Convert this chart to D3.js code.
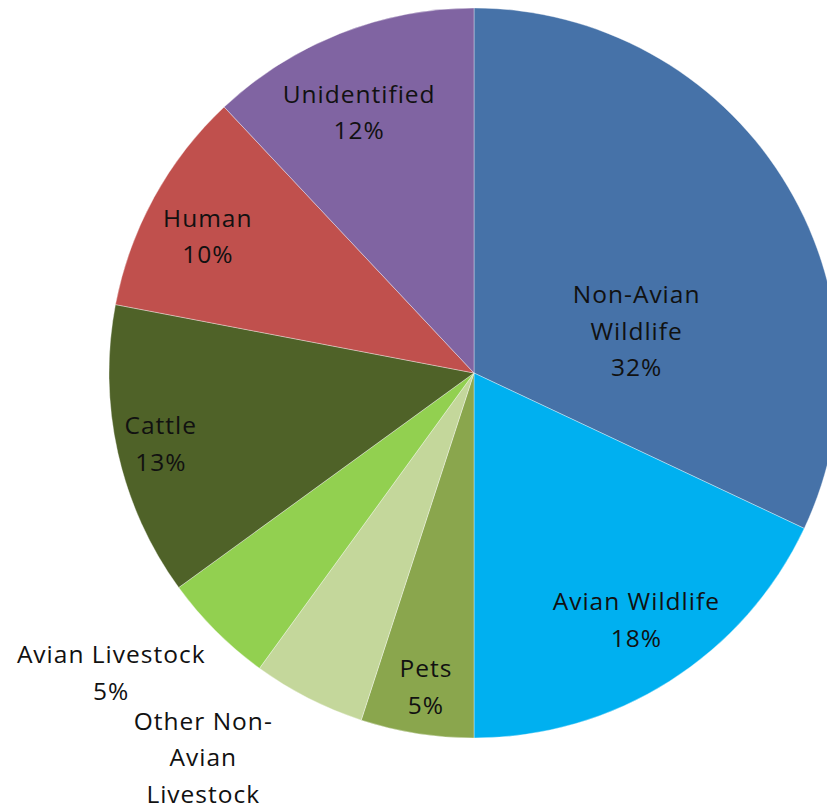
<!DOCTYPE html>
<html>
<head>
<meta charset="utf-8">
<script src="https://cdn.jsdelivr.net/npm/d3@7"></script>
<style>
  body { margin: 0; background: #fff; }
  text { font-family: "Open Sans", sans-serif; fill: #111; }
</style>
</head>
<body>
<div id="chart"></div>
<script>
// slice data, clockwise from 12 o'clock
var categories = ["Non-Avian Wildlife", "Avian Wildlife", "Pets", "Other Non-Avian Livestock",
                  "Avian Livestock", "Cattle", "Human", "Unidentified"];
var shares = [32, 18, 5, 5, 5, 13, 10, 12];
var labelLines = [["Non-Avian", "Wildlife", "32%"], ["Avian Wildlife", "18%"], ["Pets", "5%"],
                  ["Other Non-", "Avian", "Livestock", "5%"], ["Avian Livestock", "5%"],
                  ["Cattle", "13%"], ["Human", "10%"], ["Unidentified", "12%"]];

var colors = ["#4672a8", "#00b0f0", "#8aa64d", "#c4d79b", "#92d050", "#4f6228", "#c0504d", "#8064a2"];

// label anchors (angle in degrees from top, radius as fraction of pie radius) - excel "best fit"
var labelAnchor = [[75.6, 0.46], [146.7, 0.81], [188.7, 0.87], [213.9, 1.33],
                   [230.4, 1.29], [257.2, 0.88], [297.2, 0.82], [336.2, 0.78]];

var width = 827, height = 805;
var cx = 474, cy = 373, radius = 365;
var lineH = 36.5;

var svg = d3.select("#chart").append("svg")
  .attr("width", width)
  .attr("height", height);

var g = svg.append("g")
  .attr("transform", "translate(" + cx + "," + cy + ")");

var pie = d3.pie().sort(null).value(function (d) { return d; });
var arcs = pie(shares);

var arc = d3.arc().innerRadius(0).outerRadius(radius);

g.selectAll("path.slice")
  .data(arcs)
  .enter().append("path")
  .attr("class", "slice")
  .attr("d", arc)
  .attr("fill", function (d, i) { return colors[i]; })
  .attr("stroke", "rgba(255,255,255,0.45)")
  .attr("stroke-width", 0.8);

var labels = g.selectAll("text.lbl")
  .data(arcs)
  .enter().append("text")
  .attr("class", "lbl")
  .attr("text-anchor", "middle")
  .attr("font-size", 24.5)
  .attr("letter-spacing", 1)
  .attr("transform", function (d, i) {
    var a = labelAnchor[i][0] * Math.PI / 180;
    var r = labelAnchor[i][1] * radius;
    return "translate(" + (Math.sin(a) * r) + "," + (-Math.cos(a) * r) + ")";
  });

labels.each(function (d, i) {
  var lines = labelLines[i];
  var t = d3.select(this);
  var y0 = -(lines.length - 1) * lineH / 2;
  lines.forEach(function (s, j) {
    t.append("tspan")
      .attr("x", 0)
      .attr("y", y0 + j * lineH)
      .attr("dy", "0.35em")
      .text(s);
  });
});
</script>
</body>
</html>
